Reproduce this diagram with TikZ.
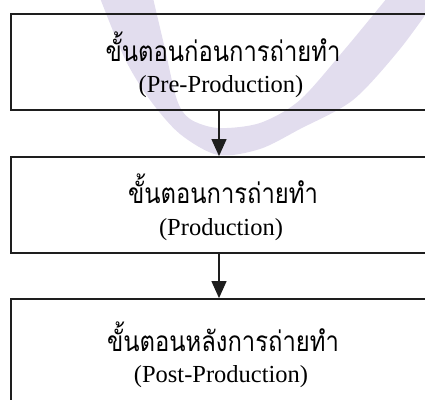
\documentclass[tikz,border=0pt]{standalone}
\usepackage{fontspec}
\setmainfont{Liberation Serif}
\newfontfamily\thaifont[Script=Thai,FakeStretch=0.85]{Loma}
\usetikzlibrary{arrows.meta}
\definecolor{wm}{RGB}{226,221,238}
\definecolor{ln}{RGB}{30,30,30}
\begin{document}
\begin{tikzpicture}[x=1pt,y=1pt,
  box/.style={draw=ln, line width=1.8pt, minimum width=416pt, inner sep=0pt},
  th/.style={anchor=base, inner sep=0pt, font=\thaifont\fontsize{28}{32}\selectfont},
  en/.style={anchor=base, inner sep=0pt, font=\fontsize{24.5}{28}\selectfont},
  arr/.style={draw=ln, line width=1.2pt, -{Triangle[width=15pt,length=17pt]}}]
\useasboundingbox (0,0) rectangle (425,399);
\clip (0,0) rectangle (425,399);
% watermark swoosh
\fill[wm] plot[smooth] coordinates {(100,401) (125,340) (150,299) (180,265) (218,244) (260,250) (300,270) (353,299) (400,350) (440,405)}
  -- plot[smooth] coordinates {(387,401) (345,350) (300,299) (260,276) (218,271) (190,280) (177,299) (165,350) (153,401)} -- cycle;
% boxes
\node[box, minimum height=96pt] (b1) at (219,337) {};
\node[box, minimum height=96pt] (b2) at (219,194) {};
\node[box, minimum height=121pt] (b3) at (219,39.5) {};
% texts
\node[th] (t1) at (223,337) {ขั้นตอนก่อนการถ่ายทำ};
\node[en] (e1) at (221,306) {(Pre-Production)};
\node[th] (t2) at (223,195) {ขั้นตอนการถ่ายทำ};
\node[en] (e2) at (221,163) {(Production)};
\node[th] (t3) at (223,48) {ขั้นตอนหลังการถ่ายทำ};
\node[en] (e3) at (221,17) {(Post-Production)};
% arrows
\draw[arr] (b1.south) -- (b2.north);
\draw[arr] (b2.south) -- (b3.north);
\end{tikzpicture}
\end{document}
